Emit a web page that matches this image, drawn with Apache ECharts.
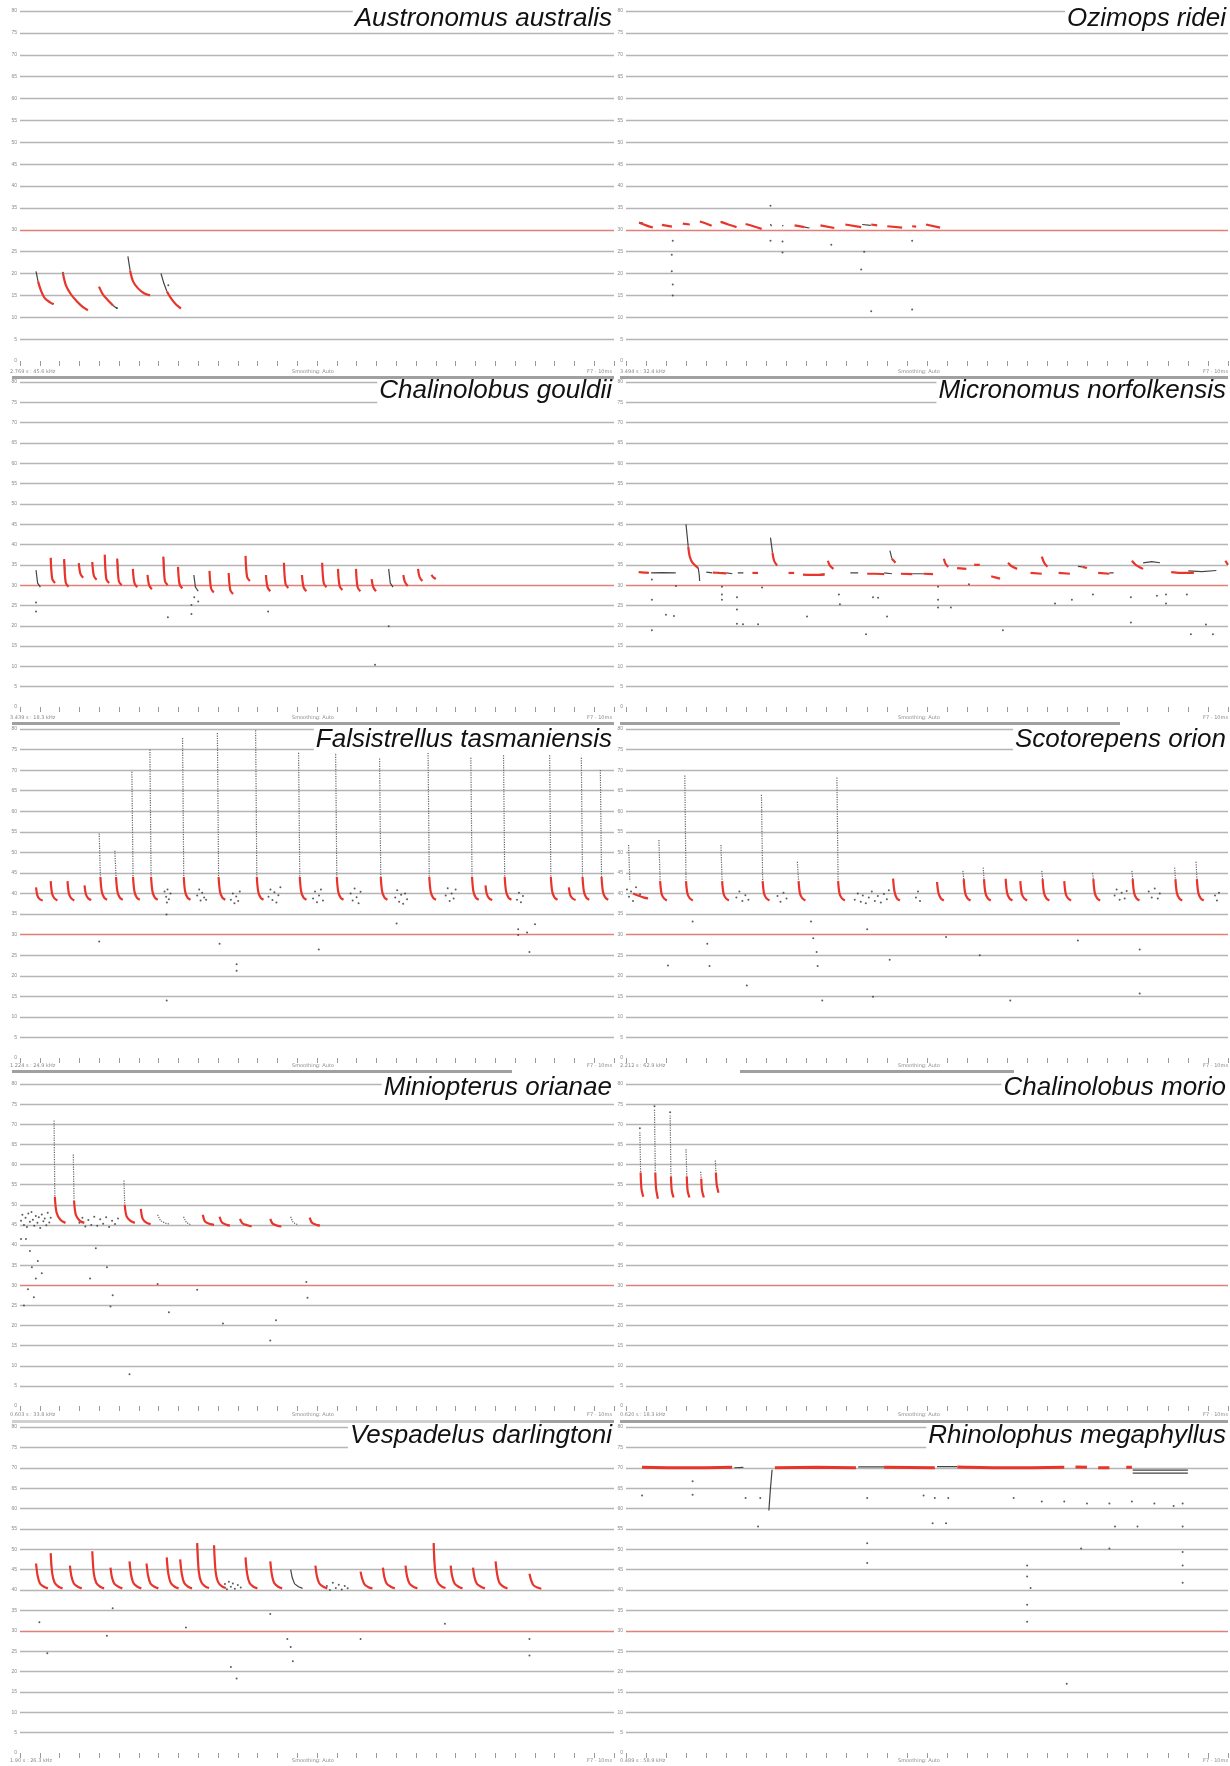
<!DOCTYPE html>
<html><head><meta charset="utf-8">
<script src="https://cdn.jsdelivr.net/npm/echarts@6/dist/echarts.min.js"></script>
<style>html,body{margin:0;padding:0;background:#fff}#c{width:1230px;height:1766px}</style>
</head><body><div id="c"></div>
<script>
// ---------- DATA (time in arbitrary units 0-300, frequency in kHz) ----------
const titles = ["Austronomus australis","Ozimops ridei","Chalinolobus gouldii","Micronomus norfolkensis","Falsistrellus tasmaniensis","Scotorepens orion","Miniopterus orianae","Chalinolobus morio","Vespadelus darlingtoni","Rhinolophus megaphyllus"];
const cursorTexts = ["2.769 s : 45.6 kHz","3.494 s : 32.4 kHz","3.439 s : 18.3 kHz","","1.224 s : 24.9 kHz","2.212 s : 62.9 kHz","0.603 s : 33.8 kHz","0.620 s : 18.3 kHz","1.90 s : 26.3 kHz","0.489 s : 58.9 kHz"];
const yTicks = [0,5,10,15,20,25,30,35,40,45,50,55,60,65,70,75,80];

// 1 Austronomus australis
const austRed = [
 [[9.1,18.2],[10.6,16.1],[12.6,14.3],[15.2,13.4],[16.7,13.0]],
 [[21.7,20.0],[23.2,17.3],[25.8,15.2],[28.8,13.6],[31.8,12.3],[34.3,11.6]],
 [[39.9,17.0],[41.9,15.2],[44.4,13.9],[47.0,12.7]],
 [[55.6,20.7],[57.1,18.2],[59.6,16.6],[62.6,15.5],[65.7,15.0]],
 [[74.2,15.9],[76.3,14.3],[78.8,12.9],[81.3,12.0]]];
const austBlack = [
 [[8.1,20.5],[9.1,18.2]],[[47.0,12.7],[49.0,12.0]],[[54.5,23.9],[55.6,20.7]],[[71.2,20.0],[72.7,17.7],[74.2,15.9]]];
const austNoise = [[21.7,20.2],[74.9,17.3],[16.7,13.1],[49,12.1]];

// 2 Ozimops ridei
const ozimRed = [
 [[6.5,31.6],[10,31.0],[13.4,30.5]],[[17.9,31.1],[22.9,30.7]],[[28.3,31.4],[31.8,31.2]],
 [[36.8,31.9],[39.5,31.5],[42.7,30.9]],[[47.2,31.8],[51,31.2],[55.1,30.6]],[[59.6,31.3],[63.5,30.8],[67.6,30.2]],
 [[84,31.0],[89,30.6]],[[96.9,31.0],[103.8,30.4]],[[109.3,31.2],[117.2,30.6]],[[122.2,31.2],[125.2,31.0]],
 [[130.2,30.8],[137.6,30.5]],[[142.6,30.8],[144.6,30.7]],[[149.5,31.2],[156.5,30.5]]];
const ozimBlack = [[[6.5,31.7],[8.5,31.5]],[[47.2,31.9],[49.5,31.5]],[[72,31.3],[72.5,30.8]],[[78,31.1],[78.3,30.8]],[[89,30.6],[91.4,30.4]],[[117.7,31.2],[122,31.0]]];
const ozimNoise = [[72.0,35.5],[72,27.5],[78,27.3],[78,24.8],[23.3,27.5],[22.8,24.3],[22.8,20.5],[23.3,17.5],[23.3,15],[102.3,26.6],[118.7,25],[117.2,20.9],[122.2,11.4],[142.6,27.5],[142.6,11.8]];

// 3 Chalinolobus gouldii
const gouldRed = [
 [[15.5,36.7],[16.3,31.5],[17.7,30.5]],[[22.3,36.4],[23.1,30.6],[24.5,29.6]],[[29.7,35.4],[30.5,32.8],[31.9,31.8]],
 [[36.5,35.7],[37.3,32.3],[38.7,31.3]],[[42.8,37.5],[43.6,31.5],[45.0,30.5]],[[49.1,36.5],[49.9,31.0],[51.3,30.0]],
 [[57.0,34.0],[57.8,30.5],[59.2,29.5]],[[64.4,32.5],[65.2,30.0],[66.6,29.0]],[[72.4,37.0],[73.2,31.0],[74.6,30.0]],
 [[79.8,34.5],[80.6,30.2],[82.0,29.2]],[[95.7,33.5],[96.5,29.2],[97.9,28.2]],[[105.4,33.0],[106.2,28.8],[107.6,27.8]],
 [[113.9,37.2],[114.7,32.0],[116.1,31.0]],[[124.2,32.5],[125.0,29.5],[126.4,28.5]],[[133.3,35.5],[134.1,30.3],[135.5,29.3]],
 [[142.4,32.5],[143.2,29.5],[144.6,28.5]],[[152.6,35.5],[153.4,30.5],[154.8,29.5]],[[160.6,34.0],[161.4,29.8],[162.8,28.8]],
 [[169.7,34.0],[170.5,29.5],[171.9,28.5]],[[177.6,31.5],[178.4,29.5],[179.8,28.5]],[[193.6,32.5],[194.4,30.8],[195.8,29.8]],
 [[201.0,34.0],[201.8,32.0],[203.2,31.0]],[[207.8,32.5],[208.6,32.0],[210.0,31.5]]];
const gouldBlack = [[[8.1,33.7],[8.9,30.5],[10.3,29.5]],[[87.8,32.5],[88.6,29.5],[90.0,28.5]],[[186.2,34.0],[187.0,30.5],[188.4,29.5]],
 [[15.5,36.7],[15.9,34]],[[22.3,36.4],[22.7,33.5]],[[49.1,36.5],[49.5,34]],[[72.4,37],[72.8,34]]];
const gouldNoise = [[74.7,22.1],[86.6,22.9],[86.6,25.1],[125.3,23.5],[179.3,10.4],[186.2,19.9],[8.1,23.5],[8.1,25.7],[88,27],[90,26]];

// 4 Micronomus norfolkensis
const microRed = [
 [[6.3,33.2],[9,33.1],[11.4,33.0]],[[31,39.5],[31.8,37],[33.2,35.5],[36,34.2]],[[43.3,33.1],[46.5,33],[50.1,32.9]],
 [[63,33],[65.8,33]],[[73,38],[73.8,36],[75.3,34.8]],[[81,33],[83.8,33]],[[88.2,32.6],[94,32.5],[99,32.6]],
 [[100.6,36],[101.6,34.8],[103.4,34]],[[120.2,32.8],[124,32.8],[128.7,32.7]],[[132.5,36.5],[134.3,35.5]],
 [[137,32.8],[142.7,32.7]],[[148.3,32.8],[153,32.7]],[[158.4,36.5],[159.3,35.2],[160.6,34.5]],[[165,34.2],[169.6,34.0]],
 [[173.5,35],[176.3,35]],[[182,32.2],[184,31.9],[186.4,31.6]],[[190.4,35.5],[192,34.7],[194.9,34]],[[201.6,33],[207.2,32.8]],
 [[207.2,37],[208.4,35.5],[210,34.5]],[[215.6,33],[221.2,32.8]],[[227.5,34.5],[229.7,34.2]],[[235.3,33],[240.9,32.8]],
 [[252.1,36],[254,35],[257.7,34]],[[271.7,33.2],[276,33],[283,33]],[[298.7,36],[300,35]]];
const microBlack = [
 [[12.5,33],[18,33.1],[24.8,33]],[[29.9,45],[30.5,42],[31,39.5]],[[36,34.2],[36.5,32.5],[36.7,31]],[[40,33.2],[43,33]],
 [[50.1,33],[53,32.8]],[[55.7,33],[58.5,33]],[[72,41.7],[73,38]],[[96,32.6],[99,32.8]],[[111.8,33],[115.7,33]],
 [[128.7,33],[132.5,32.8]],[[131.5,38.5],[132.5,36.5]],[[142.7,32.8],[148.3,32.8]],[[225.2,34.6],[227.5,34.5]],
 [[240.9,33],[243,33]],[[257.7,35.5],[262,35.8],[266.1,35.5]],[[280.2,33.5],[287,33.3],[294.2,33.6]]];
const microNoise = [[12.9,31.4],[12.9,26.4],[12.9,18.9],[19.9,22.7],[23.9,22.4],[24.9,29.8],[47.8,29.6],[47.8,27.7],[47.8,26.4],
 [55.3,27],[55.3,24],[55.3,20.5],[58.3,20.4],[65.8,20.4],[67.8,29.4],[90.2,22.3],[106.1,27.7],[106.6,25.3],[123.1,27],
 [125.6,26.9],[119.6,17.9],[130.1,22.3],[155.5,29.6],[155.5,26.4],[155.5,24.5],[161.9,24.5],[170.9,30.2],[187.8,18.9],
 [213.8,25.5],[222.2,26.4],[232.7,27.7],[251.6,27],[251.6,20.8],[264.6,27.4],[269.1,27.7],[269.1,25.5],[279.5,27.7],
 [281.5,17.9],[289,20.3],[292.5,17.9]];

// 5 Falsistrellus tasmaniensis
const falsRed = [
 [[8.1,41.5],[8.8,39.5],[10,38.6],[11.5,38.3]],[[15.5,43],[16.2,40],[17.4,38.8],[18.9,38.3]],[[24,43],[24.7,40],[25.9,38.8],[27.4,38.3]],
 [[32.6,42],[33.3,39.8],[34.5,38.8],[36,38.4]],[[40.6,44],[41.3,40.5],[42.5,39],[44,38.5]],[[48.5,44],[49.2,40.5],[50.4,39],[51.9,38.5]],
 [[57.1,44],[57.8,40.5],[59,39],[60.5,38.5]],[[66.2,44],[66.9,40.5],[68.1,39],[69.6,38.5]],[[82.7,44],[83.4,40.5],[84.6,39],[86.1,38.5]],
 [[100.3,44],[101,40.5],[102.2,39],[103.7,38.5]],[[119.6,44],[120.3,40.5],[121.5,39],[123,38.5]],[[141.3,44],[142,40.5],[143.2,39],[144.7,38.5]],
 [[160,44],[160.7,40.5],[161.9,39],[163.4,38.5]],[[182.2,44],[182.9,40.5],[184.1,39],[185.6,38.5]],[[206.7,44],[207.4,40.5],[208.6,39],[210.1,38.5]],
 [[228.3,44],[229,40.5],[230.2,39],[231.7,38.5]],[[235.1,42],[235.8,39.8],[237,38.8],[238.5,38.4]],[[244.8,44],[245.5,40.5],[246.7,39],[248.2,38.5]],
 [[268.1,44],[268.8,40.5],[270,39],[271.5,38.5]],[[277.2,41.5],[277.9,39.6],[279.1,38.8],[280.6,38.4]],[[284.1,44],[284.8,40.5],[286,39],[287.5,38.5]],
 [[293.7,44],[294.4,40.5],[295.6,39],[297.1,38.5]]];
const falsBlack = [
 [[40.0,54.6],[40.6,44]],[[47.9,50.4],[48.5,44]],[[56.5,69.6],[57.1,44]],[[65.6,75],[66.2,44]],[[82.1,77.8],[82.7,44]],
 [[99.7,79],[100.3,44]],[[119,79.7],[119.6,44]],[[140.7,74.2],[141.3,44]],[[159.4,75],[160,44]],[[181.6,72.8],[182.2,44]],
 [[206.1,74.2],[206.7,44]],[[227.7,73],[228.3,44]],[[244.2,73.6],[244.8,44]],[[267.5,73.6],[268.1,44]],[[283.5,73],[284.1,44]],
 [[293.1,70],[293.7,44]]];
const falsNoise = [
 [73,40.5],[73.8,39.2],[74.5,41.0],[75.2,38.6],[76,40],[74.2,37.8],
 [89.5,39.5],[90.5,41],[91.2,38.3],[92,40.2],[93,39],[94,38.5],
 [106.5,38.5],[107.5,40],[108.3,37.6],[109.2,39.3],[110.2,38.2],[111,40.5],
 [125.5,39.2],[126.5,41],[127.5,38.4],[128.5,40.3],[129.5,37.8],[130.5,39.6],[131.5,41.5],
 [148,38.8],[149,40.5],[150,37.9],[151,39.5],[152,41],[153,38.3],
 [167,40],[168,38.3],[169,41.2],[170,39.1],[171,37.6],[172,40.4],
 [189.5,39],[190.5,40.8],[191.5,38],[192.5,39.7],[193.5,37.5],[194.5,40],[195.5,38.6],
 [215,39.5],[216,41.3],[217,38.2],[218,40],[219,38.8],[220,41],
 [251,38.5],[252,40.2],[253,37.9],[254,39.4],
 [40,28.3],[74.1,14],[74,34.9],[100.8,27.8],[109.4,22.8],[109.4,21.2],[150.9,26.4],[190.2,32.7],[251.6,31.3],[251.6,29.9],[256.1,30.5],[257.3,25.8],[260.1,32.5]];

// 6 Scotorepens orion
const scotRed = [
 [[3.5,40],[6,39.5],[9,39],[11,38.8]],[[17,43],[17.7,40],[18.9,38.8],[20.4,38.3]],[[29.9,43],[30.6,40],[31.8,38.8],[33.3,38.3]],
 [[47.9,43],[48.6,40],[49.8,38.8],[51.3,38.3]],[[68.1,43],[68.8,40],[70,38.8],[71.5,38.3]],[[86,43],[86.7,40],[87.9,38.8],[89.4,38.3]],
 [[105.7,43],[106.4,40],[107.6,38.8],[109.1,38.3]],[[133.1,43.6],[133.8,40.5],[135,38.8],[136.5,38.3]],[[155,42.8],[155.7,40.2],[156.9,38.8],[158.4,38.3]],
 [[168.3,43.5],[169,40.2],[170.2,38.8],[171.7,38.3]],[[178.4,43.5],[179.1,40.2],[180.3,38.8],[181.8,38.3]],[[189.2,43.6],[189.9,40.2],[191.1,38.8],[192.6,38.3]],
 [[196.5,43],[197.2,40],[198.4,38.8],[199.9,38.3]],[[207.6,43.5],[208.3,40.2],[209.5,38.8],[211,38.3]],[[218.4,43],[219.1,40],[220.3,38.8],[221.8,38.3]],
 [[232.9,43.5],[233.6,40.2],[234.8,38.8],[236.3,38.3]],[[252.5,43.5],[253.2,40.2],[254.4,38.8],[255.9,38.3]],[[273.8,43.5],[274.5,40.2],[275.7,38.8],[277.2,38.3]],
 [[284.5,43.5],[285.2,40.2],[286.4,38.8],[287.9,38.3]]];
const scotBlack = [
 [[1.3,51.8],[1.9,43]],[[16.4,53],[17,43]],[[29.3,68.7],[29.9,43]],[[47.3,51.8],[47.9,43]],[[67.5,64],[68.1,43]],[[85.4,47.7],[86,43]],
 [[105.1,68.2],[105.7,43]],[[167.9,45.5],[168.3,43.5]],[[178,46.3],[178.4,43.5]],[[207.2,45.5],[207.6,43.5]],[[232.5,45],[232.9,43.5]],
 [[252.1,45.5],[252.5,43.5]],[[273.4,46.3],[273.8,43.5]],[[284.1,47.7],[284.5,43.5]]];
const scotNoise = [
 [0.5,41],[1.5,39.2],[2.5,40.5],[3.5,38.2],[5,41.5],[7,39.8],
 [55,39],[56.5,40.5],[58,38.2],[59.5,39.6],[61,38.5],
 [75.5,39.4],[77,38],[78.5,40.2],[80,38.8],
 [114,38.5],[115.5,40],[117,38],[118,39.5],[119.5,37.6],[121,39],[122.5,40.5],[124,38.2],[125.5,39.4],[127,37.8],[128.5,39.9],[130,38.6],[131,40.8],
 [144.5,39],[145.5,40.5],[146.5,38.2],
 [243.5,39.5],[244.5,41],[246,38.5],[247,40.2],[248.5,38.8],[249.5,40.6],
 [260.5,40.5],[262,39],[263.5,41.2],[265,38.8],[266,40],
 [293.5,39.5],[294.5,38.3],[295.5,40.2],
 [33.2,33.2],[40.5,27.8],[41.6,22.4],[92.2,33.2],[93.3,29.1],[95,25.8],[95.5,22.4],[120.2,31.3],[131.4,23.9],[159.5,29.4],
 [176.3,25],[191.5,14],[256,15.7],[60.2,17.6],[97.8,14],[123.1,14.9],[20.9,22.5],[225.2,28.6],[256,26.4]];

// 7 Miniopterus orianae
const miniRed = [
 [[17.6,52],[18.5,48],[20.5,46.2],[23,45.5]],[[27.3,51],[28.2,47.5],[30.2,46],[32.5,45.5]],[[52.9,50],[53.8,47.2],[55.8,46],[58,45.5]],
 [[61,49],[62,46.5],[64,45.5],[66,45.2]],[[92.3,47.5],[93.5,45.8],[96,45.2],[98,45]],[[100.8,47],[102,45.6],[104.5,45],[106,44.8]],
 [[111.1,46.5],[112.3,45.4],[114.8,44.9],[117,44.6]],[[126.4,46.5],[127.6,45.3],[130,44.8],[132,44.6]],[[146.3,46.8],[147.5,45.5],[149.8,45],[151.5,44.8]]];
const miniBlack = [
 [[17.2,70.9],[17.6,52]],[[26.9,62.5],[27.3,51]],[[52.5,56],[52.9,50]],[[69.5,47.5],[71,46],[73.5,45.4],[75.5,45.2]],
 [[82.6,47],[84,45.6],[86.5,45]],[[136.7,47],[137.9,45.6],[140.5,45]]];
const miniNoise = [
 [0.5,46],[1.2,47.5],[2,45],[2.8,46.8],[3.5,44.5],[4.2,47.8],[5,45.8],[5.8,48.2],[6.5,46.3],[7.2,44.8],[8,47.2],[8.8,45.5],
 [9.5,46.9],[10.2,44.2],[11,47.6],[11.8,45.9],[12.5,46.6],[13.3,44.9],[14,48],[14.8,45.6],[15.5,46.8],
 [3,41.5],[5,38.5],[6,34.5],[8,31.7],[9,36],[4,29],[11,33],[2,25],[7,27],[0.5,41.5],
 [30,45.5],[31.5,46.8],[33,44.6],[34.5,46.2],[36,45],[37.5,47],[39,44.8],[40.5,46.4],[42,45.3],[43.5,46.9],[45,44.5],[46.5,46],[48,45.2],[49.5,46.6],
 [35.4,31.7],[38.3,39.2],[43.9,34.5],[46.8,27.5],[45.7,24.7],[55.3,7.9],[69.5,30.3],[75.2,23.3],[89.5,28.9],[102.5,20.5],[126.4,16.3],[129.3,21.3],[144.6,30.8],[145.2,26.9]];

// 8 Chalinolobus morio
const morioRed = [
 [[7.3,58],[7.7,54],[8.6,52]],[[14.6,58],[15,54],[15.9,51.5]],[[22.4,57],[22.8,53.5],[23.7,51.8]],
 [[30.3,57],[30.7,53.5],[31.6,51.8]],[[37.5,56.5],[37.9,53.5],[38.8,51.8]],[[44.8,58],[45.2,55],[46.1,53]]];
const morioBlack = [[[6.9,68],[7.3,58]],[[14.2,73.6],[14.6,58]],[[22,72.2],[22.4,57]],[[29.9,63.8],[30.3,57]],[[37.2,58.2],[37.5,56.5]],[[44.5,61],[44.8,58]]];
const morioNoise = [[6.9,69],[14.2,74.5],[22,73]];

// 9 Vespadelus darlingtoni
const vespRed = [
 [[8.1,46.5],[8.9,43.5],[10.1,41.6],[12.1,40.8],[14.1,40.4]],[[15.5,49],[16.3,44],[17.5,41.8],[19.5,40.8],[21.5,40.4]],
 [[25.2,46],[26,43.3],[27.2,41.6],[29.2,40.8],[31.2,40.4]],[[36.5,49.5],[37.3,44],[38.5,41.8],[40.5,40.8],[42.5,40.4]],
 [[45.7,45.5],[46.5,43],[47.7,41.5],[49.7,40.8],[51.7,40.4]],[[55.3,47],[56.1,43.8],[57.3,41.7],[59.3,40.8],[61.3,40.4]],
 [[63.9,46.5],[64.7,43.5],[65.9,41.6],[67.9,40.8],[69.9,40.4]],[[74.1,48],[74.9,44],[76.1,41.8],[78.1,40.8],[80.1,40.4]],
 [[80.9,47.5],[81.7,44],[82.9,41.8],[84.9,40.8],[86.9,40.4]],[[89.5,51.5],[90.3,44.5],[91.5,42],[93.5,40.9],[95.5,40.5]],
 [[98,51],[98.8,44.5],[100,42],[102,40.9],[104,40.5]],[[113.9,48],[114.7,44],[115.9,41.8],[117.9,40.8],[119.9,40.4]],
 [[126.4,47],[127.2,43.8],[128.4,41.7],[130.4,40.8],[132.4,40.4]],[[149.2,46],[150,43.3],[151.2,41.6],[153.2,40.8],[155.2,40.4]],
 [[172,44.5],[172.8,42.8],[174,41.4],[176,40.7],[178,40.4]],[[183.3,45.5],[184.1,43],[185.3,41.5],[187.3,40.8],[189.3,40.4]],
 [[194.7,46],[195.5,43.3],[196.7,41.6],[198.7,40.8],[200.7,40.4]],[[208.9,51.5],[209.7,44.5],[210.9,42],[212.9,40.9],[214.9,40.5]],
 [[217.5,46],[218.3,43.3],[219.5,41.6],[221.5,40.8],[223.5,40.4]],[[228.8,45.5],[229.6,43],[230.8,41.5],[232.8,40.8],[234.8,40.4]],
 [[240.2,47],[241,43.8],[242.2,41.7],[244.2,40.8],[246.2,40.4]],[[257.3,44],[258.1,42.5],[259.3,41.2],[261.3,40.6],[263.3,40.3]]];
const vespBlack = [[[136.7,45],[137.5,43],[138.7,41.5],[140.7,40.8],[142.7,40.4]],[[15.5,49],[15.8,46]],[[89.5,51.5],[89.8,47]],[[208.9,51.5],[209.2,47]]];
const vespNoise = [
 [103.5,41.5],[104.5,40.2],[105.5,42],[106.5,40.8],[107.5,41.6],[108.5,40.3],[110,41.2],[111.5,40.6],
 [155,41],[156.5,40],[158,41.8],[159.5,40.5],[161,41.3],[162.5,40.1],[164,41],[165.5,40.4],
 [9.8,32.1],[43.9,28.8],[46.8,35.5],[83.8,30.8],[126.4,34.1],[135,28],[137.8,22.5],[136.7,26],[106.5,21.1],[109.4,18.3],
 [214.6,31.7],[257.3,28],[257.3,23.9],[172,28],[13.8,24.5]];

// 10 Rhinolophus megaphyllus
const rhinRed = [
 [[8,70.1],[30,70.0],[52.9,70.1]],[[74.2,70.0],[95,70.1],[114.6,70.0]],[[128.6,70.1],[153.9,70.0]],
 [[165.1,70.2],[190,70.0],[218.4,70.1]],[[224,70.2],[229.7,70.1]],[[235.3,70.0],[240.9,70.0]],[[249.3,70.1],[252.1,70.1]]];
const rhinBlack = [
 [[54,70],[58.5,70.1]],[[115.7,70.2],[128.6,70.2]],[[155,70.3],[165,70.3]],[[252.5,69.4],[280,69.4]],[[252.5,68.7],[280,68.7]],
 [[71.2,59.5],[72,65],[72.8,69.5]]];
const rhinNoise = [
 [8,63.2],[59.6,62.6],[66.9,62.6],[120.2,62.6],[148.3,63.2],[153.9,62.6],[160.6,62.6],[193.2,62.6],[207.2,61.7],[218.4,61.7],
 [229.7,61.2],[240.9,61.2],[252.1,61.7],[263.3,61.2],[272.9,60.6],[277.4,61.2],
 [152.8,56.4],[159.5,56.4],[243.7,55.6],[254.9,55.6],[277.4,55.6],[65.8,55.6],
 [120.2,51.5],[277.4,49.3],[226.8,50.2],[240.9,50.2],[199.9,46],[199.9,43.3],[201.6,40.5],[199.9,36.4],[199.9,32.2],[219.6,17],
 [120.2,46.6],[277.4,46],[277.4,41.8],[33.2,66.7],[33.2,63.4]];

// ---------- LAYOUT ----------
const colLeft = [20, 626], colWidth = [594, 602];
const rowTop = [11, 382, 729, 1084, 1427], rowH = [350, 325, 329, 322, 326];
const titleTop = [6, 378, 727, 1075, 1423];
const stripY = [372, 718, 1066, 1415, 1761];

const reds = [austRed, ozimRed, gouldRed, microRed, falsRed, scotRed, miniRed, morioRed, vespRed, rhinRed];
const blacks = [austBlack, ozimBlack, gouldBlack, microBlack, falsBlack, scotBlack, miniBlack, morioBlack, vespBlack, rhinBlack];
const noises = [austNoise, ozimNoise, gouldNoise, microNoise, falsNoise, scotNoise, miniNoise, morioNoise, vespNoise, rhinNoise];

const gridLineColors = yTicks.map(v => v === 0 ? 'rgba(0,0,0,0)' : (v === 30 ? '#e0807c' : '#b5b5b5'));

const grids = [], xAxes = [], yAxes = [], series = [], titleList = [], graphics = [];
for (let i = 0; i < 10; i++) {
  const c = i % 2, r = Math.floor(i / 2);
  grids.push({left: colLeft[c], top: rowTop[r], width: colWidth[c], height: rowH[r]});
  xAxes.push({gridIndex: i, type: 'value', min: 0, max: 300, interval: 10,
    axisLine: {show: false}, axisTick: {show: true, length: 5, lineStyle: {color: '#9a9a9a', width: 1}},
    axisLabel: {show: false}, splitLine: {show: false}});
  yAxes.push({gridIndex: i, type: 'value', min: 0, max: 80, interval: 5,
    axisLine: {show: false}, axisTick: {show: false},
    axisLabel: {fontSize: 5, color: '#8a8a8a', margin: 3},
    splitLine: {show: true, lineStyle: {color: gridLineColors, width: 1.4}}});
  reds[i].forEach(call => series.push({type: 'line', xAxisIndex: i, yAxisIndex: i, data: call, symbol: 'none', smooth: 0.3,
    lineStyle: {color: '#e8352c', width: i === 9 ? 3 : 2.2}, silent: true, animation: false, z: 4}));
  const dotted = (i === 4 || i === 5 || i === 6 || i === 7);
  blacks[i].forEach(call => series.push({type: 'line', xAxisIndex: i, yAxisIndex: i, data: call, symbol: 'none',
    lineStyle: {color: dotted ? '#666' : '#444', width: 1.2, type: dotted ? 'dotted' : 'solid'}, silent: true, animation: false, z: 3}));
  series.push({type: 'scatter', xAxisIndex: i, yAxisIndex: i, data: noises[i], symbolSize: 2,
    itemStyle: {color: '#333'}, silent: true, animation: false, z: 3});
  titleList.push({text: titles[i], right: c === 0 ? 616 : 2, top: titleTop[r], padding: [0, 2],
    backgroundColor: '#fff', z: 10,
    textStyle: {fontFamily: 'Liberation Sans, Arial, sans-serif', fontStyle: 'italic', fontWeight: 'normal', fontSize: 26, color: '#111'}});
  const x0 = c === 0 ? 10 : 620, x1 = c === 0 ? 612 : 1228;
  const ts = {fontSize: 5, fill: '#8a8a8a', fontFamily: 'DejaVu Sans'};
  if (cursorTexts[i]) graphics.push({type: 'text', left: x0, top: stripY[r] - 3, style: Object.assign({text: cursorTexts[i]}, ts), silent: true});
  graphics.push({type: 'text', left: c === 0 ? 292 : 898, top: stripY[r] - 3, style: Object.assign({text: 'Smoothing: Auto'}, ts), silent: true});
  graphics.push({type: 'text', right: 1230 - x1, top: stripY[r] - 3, style: Object.assign({text: 'F7 - 10ms'}, ts), silent: true});
}
// scrollbar-like separator bars
const bars = [
  [12, 376, 602, '#a0a0a0'], [620, 376, 608, '#a0a0a0'],
  [12, 722, 602, '#a0a0a0'], [620, 722, 500, '#a0a0a0'],
  [12, 1070, 500, '#a0a0a0'], [740, 1070, 274, '#a0a0a0'],
  [12, 1420, 528, '#d0d0d0'], [540, 1420, 74, '#a0a0a0'], [620, 1420, 608, '#a0a0a0']];
bars.forEach(b => graphics.push({type: 'rect', left: b[0], top: b[1], shape: {width: b[2], height: 3}, style: {fill: b[3]}, silent: true, z: 100}));

const chart = echarts.init(document.getElementById('c'), null, {renderer: 'canvas'});
chart.setOption({backgroundColor: '#fff', animation: false, title: titleList, grid: grids, xAxis: xAxes, yAxis: yAxes, series: series, graphic: graphics});
</script></body></html>
